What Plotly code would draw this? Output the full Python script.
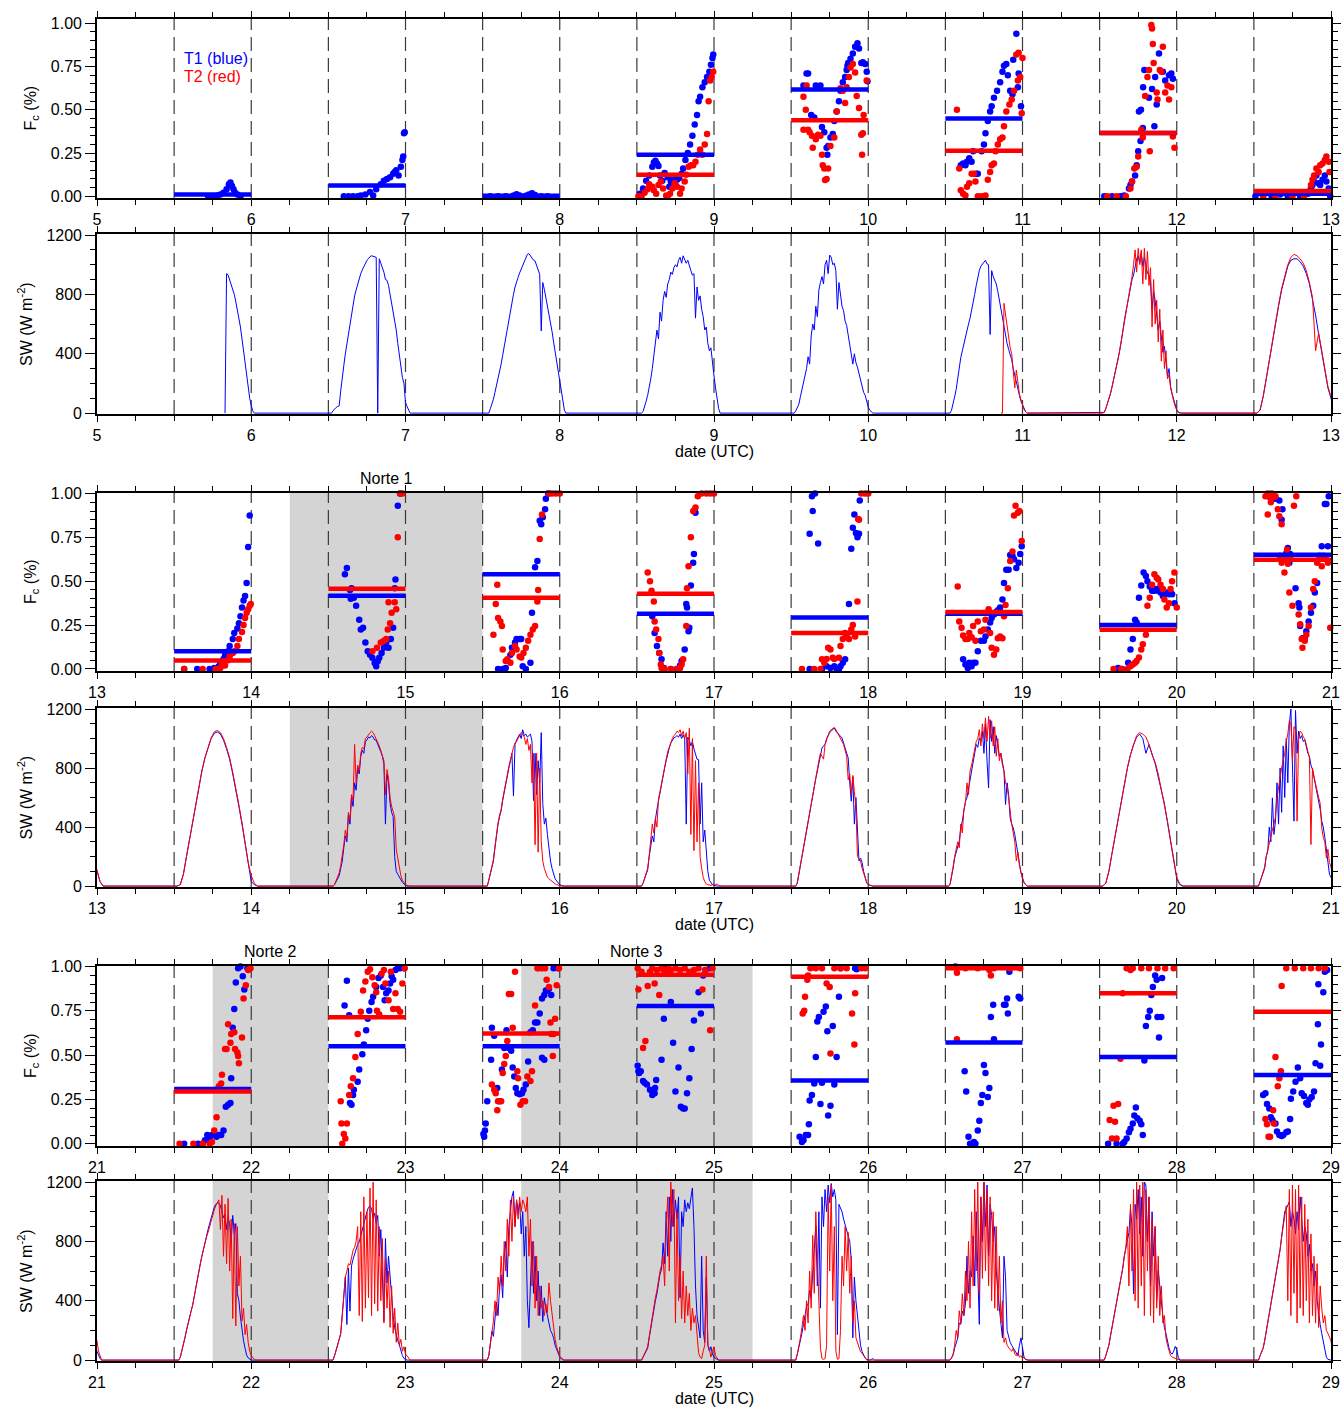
import numpy as np
import plotly.graph_objects as go

# ---------------------------------------------------------------------------
# Cloud fraction F_c (time in days, value) for towers T1 and T2
# ---------------------------------------------------------------------------
fc_t1_d05 = [(5.72,0.0),(5.75,0.0),(5.78,0.005),(5.80,0.01),(5.82,0.02),(5.84,0.04),(5.855,0.07),(5.865,0.08),(5.875,0.06),(5.885,0.04),(5.895,0.02),(5.91,0.01),(5.93,0.0)]
fc_t1_d06 = [(6.60,0.0),(6.63,0.0),(6.66,0.0),(6.69,0.0),(6.71,0.005),(6.74,0.01),(6.77,0.025),(6.79,0.005),(6.81,0.04),(6.84,0.07),(6.86,0.09),(6.88,0.10),(6.90,0.11),(6.92,0.13),(6.93,0.14),(6.94,0.15),(6.955,0.12),(6.97,0.17),(6.98,0.21),(6.985,0.23),(6.99,0.365),(6.995,0.37)]
fc_t1_d07 = [(7.55,0.0),(7.60,0.0),(7.65,0.0),(7.70,0.005),(7.72,0.012),(7.74,0.005),(7.78,0.003),(7.80,0.01),(7.82,0.018),(7.84,0.008),(7.88,0.0),(7.92,0.0)]
fc_t1_d08 = [(8.52,0.015),(8.54,0.045),(8.56,0.09),(8.58,0.12),(8.60,0.17),(8.61,0.195),(8.62,0.205),(8.63,0.19),(8.64,0.175),(8.65,0.12),(8.665,0.09),(8.68,0.135),(8.70,0.11),(8.71,0.055),(8.72,0.085),(8.735,0.10),(8.75,0.065),(8.76,0.095),(8.775,0.105),(8.79,0.13),(8.80,0.16),(8.815,0.21),(8.83,0.25),(8.845,0.30),(8.86,0.35),(8.875,0.415),(8.89,0.47),(8.90,0.55),(8.91,0.575),(8.925,0.63),(8.94,0.66),(8.955,0.69),(8.97,0.72),(8.98,0.76),(8.99,0.80),(8.995,0.82)]
fc_t2_d08 = [(8.51,0.0),(8.53,0.0),(8.55,0.02),(8.57,0.04),(8.58,0.07),(8.60,0.055),(8.61,0.035),(8.625,0.015),(8.64,0.065),(8.655,0.085),(8.67,0.045),(8.69,0.005),(8.70,0.0),(8.715,0.015),(8.73,0.045),(8.745,0.075),(8.76,0.055),(8.78,0.015),(8.79,0.045),(8.81,0.085),(8.82,0.125),(8.835,0.17),(8.85,0.18),(8.865,0.18),(8.88,0.20),(8.895,0.24),(8.91,0.27),(8.925,0.24),(8.94,0.30),(8.955,0.36),(8.965,0.55),(8.975,0.67),(8.985,0.69),(8.995,0.72)]
fc_t1_d09 = [(9.58,0.64),(9.60,0.71),(9.61,0.71),(9.63,0.47),(9.65,0.455),(9.66,0.64),(9.675,0.63),(9.69,0.64),(9.70,0.40),(9.715,0.37),(9.73,0.28),(9.735,0.24),(9.74,0.29),(9.755,0.34),(9.77,0.36),(9.78,0.435),(9.795,0.49),(9.81,0.55),(9.82,0.61),(9.835,0.66),(9.85,0.69),(9.86,0.73),(9.865,0.755),(9.87,0.77),(9.885,0.795),(9.90,0.825),(9.915,0.865),(9.93,0.885),(9.94,0.855),(9.955,0.77),(9.965,0.775),(9.98,0.765),(9.99,0.72),(9.995,0.665)]
fc_t2_d09 = [(9.58,0.575),(9.595,0.50),(9.60,0.64),(9.58,0.385),(9.61,0.385),(9.62,0.37),(9.635,0.35),(9.64,0.28),(9.66,0.33),(9.675,0.355),(9.69,0.35),(9.70,0.24),(9.705,0.18),(9.715,0.16),(9.72,0.094),(9.73,0.10),(9.74,0.16),(9.755,0.29),(9.78,0.34),(9.795,0.49),(9.82,0.625),(9.835,0.61),(9.85,0.54),(9.86,0.63),(9.875,0.69),(9.885,0.745),(9.90,0.765),(9.915,0.715),(9.925,0.58),(9.94,0.51),(9.955,0.355),(9.96,0.24),(9.965,0.365),(9.97,0.47),(9.99,0.67)]
fc_t1_d10 = [(10.60,0.18),(10.615,0.19),(10.63,0.18),(10.64,0.20),(10.655,0.22),(10.67,0.20),(10.68,0.26),(10.70,0.13),(10.71,0.13),(10.735,0.26),(10.75,0.30),(10.76,0.365),(10.775,0.435),(10.79,0.49),(10.80,0.52),(10.815,0.57),(10.835,0.61),(10.855,0.66),(10.87,0.72),(10.88,0.755),(10.895,0.765),(10.905,0.70),(10.92,0.61),(10.935,0.59),(10.94,0.79),(10.96,0.94),(10.97,0.63),(10.975,0.71),(10.99,0.52)]
fc_t2_d10 = [(10.575,0.50),(10.59,0.16),(10.60,0.035),(10.615,0.015),(10.63,0.005),(10.64,0.055),(10.655,0.075),(10.67,0.13),(10.685,0.13),(10.695,0.085),(10.71,0.0),(10.735,0.0),(10.76,0.005),(10.775,0.095),(10.79,0.14),(10.80,0.18),(10.815,0.19),(10.825,0.26),(10.84,0.30),(10.855,0.33),(10.87,0.34),(10.88,0.405),(10.895,0.49),(10.915,0.53),(10.93,0.56),(10.945,0.61),(10.96,0.82),(10.97,0.67),(10.975,0.83),(10.985,0.69),(10.995,0.48),(11.0,0.80)]
fc_t1_d11 = [(11.53,0.0),(11.58,0.0),(11.635,0.0),(11.66,0.005),(11.69,0.045),(11.70,0.065),(11.71,0.085),(11.73,0.12),(11.74,0.18),(11.75,0.26),(11.765,0.32),(11.78,0.395),(11.755,0.49),(11.768,0.50),(11.782,0.63),(11.79,0.73),(11.82,0.57),(11.84,0.62),(11.855,0.405),(11.86,0.69),(11.87,0.53),(11.885,0.825),(11.91,0.72),(11.925,0.67),(11.95,0.70),(11.965,0.71),(11.975,0.68)]
fc_t2_d11 = [(11.55,0.0),(11.61,0.0),(11.67,0.0),(11.70,0.045),(11.71,0.085),(11.725,0.16),(11.74,0.17),(11.75,0.23),(11.77,0.385),(11.78,0.34),(11.795,0.58),(11.81,0.69),(11.82,0.73),(11.825,0.26),(11.835,0.99),(11.84,0.97),(11.845,0.88),(11.85,0.77),(11.87,0.60),(11.875,0.56),(11.89,0.73),(11.90,0.72),(11.91,0.865),(11.925,0.60),(11.94,0.64),(11.95,0.56),(11.965,0.63),(11.975,0.345),(11.985,0.28)]
fc_t1_d12 = [(12.51,0.0),(12.56,0.0),(12.615,0.0),(12.67,0.01),(12.72,0.0),(12.80,0.0),(12.85,0.015),(12.87,0.045),(12.88,0.065),(12.89,0.085),(12.905,0.12),(12.92,0.075),(12.93,0.065),(12.945,0.095),(12.96,0.12),(12.97,0.085),(12.985,0.045),(12.995,0.0)]
fc_t2_d12 = [(12.56,0.0),(12.64,0.0),(12.75,0.0),(12.825,0.0),(12.85,0.025),(12.87,0.065),(12.88,0.095),(12.89,0.12),(12.905,0.16),(12.92,0.14),(12.93,0.18),(12.945,0.19),(12.96,0.21),(12.97,0.23),(12.985,0.20),(12.99,0.14)]

fc_t1_d13 = [(13.565,0.0),(13.65,0.0),(13.73,0.0),(13.76,0.005),(13.79,0.015),(13.80,0.035),(13.82,0.057),(13.83,0.076),(13.85,0.10),(13.86,0.13),(13.88,0.17),(13.89,0.205),(13.91,0.23),(13.92,0.26),(13.93,0.30),(13.94,0.35),(13.95,0.39),(13.96,0.415),(13.97,0.49),(13.98,0.695),(13.99,0.875)]
fc_t2_d13 = [(13.565,0.0),(13.685,0.0),(13.77,0.0),(13.80,0.005),(13.81,0.025),(13.83,0.02),(13.85,0.05),(13.86,0.07),(13.88,0.09),(13.89,0.10),(13.91,0.13),(13.92,0.17),(13.94,0.21),(13.95,0.25),(13.96,0.29),(13.97,0.32),(13.98,0.34),(13.99,0.36),(13.997,0.37)]
fc_t1_d14 = [(14.607,0.54),(14.62,0.575),(14.64,0.45),(14.645,0.40),(14.65,0.46),(14.665,0.405),(14.68,0.36),(14.70,0.28),(14.71,0.225),(14.725,0.235),(14.74,0.15),(14.755,0.10),(14.77,0.08),(14.785,0.063),(14.80,0.034),(14.81,0.015),(14.82,0.044),(14.83,0.063),(14.845,0.09),(14.86,0.12),(14.875,0.15),(14.89,0.12),(14.905,0.17),(14.92,0.235),(14.93,0.46),(14.935,0.51),(14.95,0.93),(14.965,1.0)]
fc_t2_d14 = [(14.785,0.10),(14.815,0.12),(14.84,0.15),(14.86,0.16),(14.875,0.17),(14.885,0.225),(14.89,0.38),(14.90,0.26),(14.91,0.32),(14.93,0.38),(14.94,0.34),(14.95,0.75),(14.965,1.0),(14.98,1.0)]
fc_t1_d15 = [(15.60,0.0),(15.63,0.0),(15.65,0.005),(15.66,0.05),(15.68,0.08),(15.69,0.12),(15.71,0.15),(15.72,0.17),(15.74,0.17),(15.75,0.17),(15.76,0.015),(15.78,0.0),(15.81,0.035),(15.82,0.32),(15.84,0.58),(15.855,0.615),(15.87,0.845),(15.88,0.825),(15.89,0.865),(15.905,0.91),(15.91,0.97),(15.925,1.0)]
fc_t2_d15 = [(15.57,0.195),(15.585,0.37),(15.595,0.48),(15.60,0.29),(15.615,0.27),(15.625,0.245),(15.63,0.11),(15.65,0.045),(15.66,0.055),(15.68,0.035),(15.69,0.09),(15.71,0.13),(15.72,0.11),(15.74,0.07),(15.75,0.065),(15.765,0.09),(15.78,0.12),(15.795,0.16),(15.81,0.195),(15.825,0.225),(15.84,0.245),(15.855,0.385),(15.86,0.45),(15.87,0.74),(15.885,0.88),(15.93,1.0),(15.95,1.0),(15.975,1.0),(16.0,1.0)]
fc_t1_d16 = [(16.60,0.30),(16.615,0.205),(16.63,0.13),(16.645,0.09),(16.66,0.055),(16.675,0.005),(16.72,0.0),(16.76,0.0),(16.78,0.02),(16.79,0.045),(16.81,0.11),(16.82,0.37),(16.825,0.35),(16.835,0.215),(16.84,0.235),(16.85,0.475),(16.865,0.605),(16.87,0.655),(16.88,0.89)]
fc_t2_d16 = [(16.57,0.55),(16.585,0.50),(16.595,0.445),(16.61,0.385),(16.615,0.27),(16.625,0.225),(16.64,0.17),(16.645,0.09),(16.655,0.025),(16.66,0.005),(16.68,0.0),(16.72,0.0),(16.76,0.0),(16.78,0.005),(16.79,0.025),(16.80,0.055),(16.82,0.245),(16.825,0.46),(16.835,0.585),(16.85,0.75),(16.865,0.90),(16.88,0.92),(16.895,0.985),(16.92,1.0),(16.95,1.0),(16.975,1.0),(17.0,1.0)]
fc_t1_d17 = [(17.62,0.77),(17.635,0.985),(17.655,1.0),(17.64,0.90),(17.675,0.715),(17.62,0.0),(17.70,0.0),(17.73,0.015),(17.755,0.005),(17.78,0.015),(17.795,0.0),(17.81,0.0),(17.82,0.015),(17.835,0.035),(17.85,0.055),(17.875,0.37),(17.89,0.685),(17.90,0.805),(17.91,0.88),(17.92,0.775),(17.93,0.75),(17.94,0.77),(17.945,0.96)]
fc_t2_d17 = [(17.57,0.0),(17.65,0.0),(17.69,0.0),(17.70,0.055),(17.715,0.035),(17.73,0.057),(17.74,0.12),(17.755,0.11),(17.77,0.063),(17.78,0.057),(17.81,0.063),(17.82,0.13),(17.835,0.17),(17.85,0.205),(17.86,0.195),(17.875,0.17),(17.89,0.225),(17.90,0.25),(17.915,0.185),(17.93,0.385),(17.935,0.855),(17.94,0.85),(17.955,1.0),(17.98,1.0),(18.0,1.0)]
fc_t1_d18 = [(18.615,0.055),(18.63,0.025),(18.645,0.005),(18.655,0.035),(18.67,0.015),(18.68,0.035),(18.695,0.035),(18.71,0.10),(18.73,0.16),(18.75,0.16),(18.76,0.185),(18.775,0.225),(18.79,0.265),(18.80,0.29),(18.815,0.31),(18.83,0.325),(18.84,0.335),(18.855,0.35),(18.87,0.395),(18.88,0.49),(18.895,0.565),(18.91,0.565),(18.92,0.65),(18.935,0.645),(18.945,0.625),(18.96,0.575),(18.975,0.605),(18.985,0.655),(18.995,0.70)]
fc_t2_d18 = [(18.58,0.47),(18.59,0.27),(18.605,0.235),(18.615,0.19),(18.63,0.17),(18.645,0.17),(18.655,0.205),(18.67,0.18),(18.68,0.245),(18.695,0.16),(18.71,0.27),(18.73,0.215),(18.75,0.225),(18.76,0.28),(18.78,0.34),(18.79,0.205),(18.80,0.12),(18.815,0.08),(18.83,0.11),(18.84,0.175),(18.855,0.185),(18.87,0.175),(18.88,0.30),(18.89,0.365),(18.905,0.46),(18.92,0.615),(18.935,0.67),(18.945,0.875),(18.955,0.93),(18.97,0.89),(18.98,0.90),(18.995,0.73)]
fc_t1_d19 = [(19.61,0.0),(19.62,0.005),(19.645,0.0),(19.685,0.035),(19.70,0.11),(19.715,0.17),(19.73,0.28),(19.74,0.265),(19.755,0.405),(19.77,0.475),(19.785,0.55),(19.80,0.53),(19.81,0.50),(19.825,0.47),(19.84,0.445),(19.855,0.445),(19.87,0.455),(19.88,0.445),(19.895,0.435),(19.91,0.415),(19.92,0.425),(19.935,0.435),(19.95,0.425),(19.96,0.435),(19.97,0.425),(19.985,0.375)]
fc_t2_d19 = [(19.59,0.0),(19.64,0.0),(19.68,0.0),(19.70,0.015),(19.715,0.025),(19.73,0.035),(19.74,0.045),(19.755,0.065),(19.77,0.11),(19.78,0.14),(19.80,0.195),(19.81,0.36),(19.825,0.405),(19.84,0.48),(19.855,0.54),(19.87,0.52),(19.88,0.51),(19.895,0.48),(19.91,0.455),(19.92,0.395),(19.935,0.35),(19.95,0.375),(19.96,0.455),(19.97,0.50),(19.985,0.55),(20.0,0.35)]
fc_t1_d20 = [(20.615,0.97),(20.64,0.97),(20.665,0.96),(20.68,0.85),(20.685,0.91),(20.72,0.69),(20.71,0.66),(20.73,0.605),(20.735,0.655),(20.77,0.46),(20.79,0.375),(20.795,0.35),(20.80,0.245),(20.815,0.175),(20.83,0.17),(20.84,0.215),(20.855,0.27),(20.87,0.32),(20.885,0.36),(20.895,0.435),(20.91,0.49),(20.925,0.645),(20.94,0.70),(20.96,0.94),(20.97,0.94),(20.985,0.985),(20.98,0.70)]
fc_t2_d20 = [(20.575,0.985),(20.59,1.0),(20.60,0.98),(20.61,0.95),(20.59,0.88),(20.615,1.0),(20.625,0.98),(20.64,0.985),(20.655,0.91),(20.665,0.87),(20.68,0.825),(20.668,0.645),(20.68,0.605),(20.695,0.635),(20.71,0.645),(20.72,0.60),(20.735,0.635),(20.698,0.55),(20.715,0.68),(20.73,0.435),(20.75,0.36),(20.76,0.93),(20.775,0.985),(20.79,0.31),(20.80,0.255),(20.81,0.17),(20.815,0.12),(20.83,0.16),(20.84,0.195),(20.855,0.245),(20.87,0.35),(20.885,0.455),(20.895,0.50),(20.91,0.605),(20.925,0.625),(20.94,0.585),(20.95,0.645),(20.965,0.635),(20.98,0.605),(20.995,0.235)]

fc_t1_d21 = [(21.565,0.0),(21.655,0.0),(21.685,0.0),(21.70,0.02),(21.715,0.05),(21.73,0.03),(21.745,0.05),(21.76,0.05),(21.775,0.04),(21.79,0.05),(21.805,0.05),(21.82,0.075),(21.835,0.21),(21.85,0.22),(21.865,0.23),(21.87,0.37),(21.88,0.655),(21.89,0.76),(21.90,0.91),(21.915,0.99),(21.93,1.0),(21.945,0.945),(21.955,0.87),(21.975,0.99)]
fc_t2_d21 = [(21.535,0.0),(21.625,0.0),(21.685,0.0),(21.73,0.0),(21.745,0.01),(21.76,0.075),(21.775,0.15),(21.79,0.325),(21.805,0.34),(21.81,0.39),(21.83,0.535),(21.84,0.535),(21.85,0.675),(21.865,0.57),(21.87,0.62),(21.89,0.63),(21.895,0.535),(21.91,0.515),(21.915,0.495),(21.92,0.455),(21.94,0.60),(21.95,0.82),(21.965,0.895),(21.98,0.98),(21.995,0.99)]
fc_t1_d22 = [(22.605,0.78),(22.62,0.92),(22.635,0.725),(22.64,0.23),(22.65,0.22),(22.66,0.275),(22.665,0.305),(22.69,0.35),(22.70,0.42),(22.72,0.505),(22.73,0.56),(22.745,0.64),(22.755,0.705),(22.765,0.75),(22.78,0.80),(22.79,0.83),(22.81,0.885),(22.825,0.935),(22.84,0.95),(22.855,0.885),(22.865,0.81),(22.875,0.85),(22.89,0.865),(22.90,0.905),(22.91,0.945),(22.92,0.925),(22.935,0.98),(22.95,0.99),(22.965,0.99),(22.99,0.99)]
fc_t2_d22 = [(22.58,0.24),(22.585,0.115),(22.60,0.055),(22.61,0.03),(22.62,0.115),(22.59,0.0),(22.635,0.275),(22.645,0.325),(22.66,0.37),(22.675,0.49),(22.69,0.62),(22.71,0.745),(22.725,0.865),(22.74,0.915),(22.755,0.97),(22.77,0.985),(22.785,0.94),(22.80,0.895),(22.81,0.855),(22.815,0.75),(22.83,0.73),(22.845,0.96),(22.86,0.98),(22.87,0.905),(22.89,0.81),(22.905,0.97),(22.92,0.76),(22.935,0.85),(22.95,0.76),(22.965,0.745),(22.98,0.905),(22.995,0.99)]
fc_t1_d23 = [(23.505,0.055),(23.51,0.04),(23.515,0.075),(23.52,0.115),(23.53,0.24),(23.555,0.475),(23.56,0.655),(23.575,0.61),(23.595,0.315),(23.61,0.24),(23.625,0.42),(23.64,0.54),(23.655,0.64),(23.67,0.54),(23.685,0.525),(23.695,0.43),(23.705,0.38),(23.715,0.315),(23.725,0.285),(23.74,0.28),(23.755,0.285),(23.765,0.305),(23.78,0.335),(23.795,0.465),(23.81,0.63),(23.825,0.64),(23.84,0.685),(23.855,0.685),(23.87,0.735),(23.885,0.82),(23.90,0.84),(23.91,0.865),(23.92,0.865),(23.93,0.875),(23.945,0.84),(23.96,0.99),(23.99,0.99),(23.90,0.475),(23.885,0.485)]
fc_t2_d23 = [(23.56,0.335),(23.575,0.305),(23.585,0.285),(23.595,0.19),(23.60,0.24),(23.62,0.24),(23.63,0.40),(23.64,0.45),(23.65,0.495),(23.66,0.58),(23.67,0.845),(23.685,0.845),(23.695,0.655),(23.71,0.97),(23.725,0.41),(23.73,0.37),(23.745,0.22),(23.76,0.24),(23.775,0.24),(23.79,0.38),(23.81,0.355),(23.82,0.41),(23.84,0.78),(23.855,0.99),(23.865,0.99),(23.885,0.99),(23.905,0.99),(23.915,0.925),(23.93,0.885),(23.94,0.685),(23.945,0.62),(23.955,0.495),(23.96,0.62),(23.97,0.705),(23.98,0.895),(23.995,0.99)]
fc_t1_d24 = [(24.505,0.44),(24.51,0.41),(24.515,0.40),(24.525,0.41),(24.54,0.355),(24.55,0.345),(24.565,0.335),(24.585,0.305),(24.60,0.275),(24.615,0.285),(24.618,0.315),(24.625,0.36),(24.66,0.475),(24.675,0.705),(24.69,0.99),(24.72,0.80),(24.735,0.57),(24.75,0.295),(24.77,0.43),(24.785,0.21),(24.80,0.20),(24.81,0.20),(24.825,0.285),(24.84,0.37),(24.855,0.535),(24.87,0.695),(24.90,0.855),(24.915,0.735),(24.93,0.95),(24.945,0.98),(24.975,0.99)]
fc_t2_d24 = [(24.505,0.99),(24.51,0.87),(24.53,0.97),(24.54,0.54),(24.555,0.58),(24.57,0.89),(24.585,0.97),(24.60,0.99),(24.615,0.905),(24.63,0.98),(24.645,0.84),(24.66,0.99),(24.675,0.98),(24.69,0.96),(24.705,0.99),(24.72,0.98),(24.75,0.99),(24.78,0.98),(24.81,0.99),(24.84,0.97),(24.87,0.98),(24.90,0.99),(24.925,0.87),(24.945,0.98),(24.975,0.64),(24.99,0.99)]
fc_t1_d25 = [(25.555,0.04),(25.57,0.01),(25.58,0.02),(25.595,0.05),(25.61,0.05),(25.615,0.11),(25.62,0.245),(25.635,0.275),(25.65,0.34),(25.66,0.49),(25.67,0.69),(25.68,0.715),(25.69,0.225),(25.70,0.345),(25.71,0.745),(25.725,0.775),(25.735,0.635),(25.74,0.16),(25.755,0.215),(25.77,0.665),(25.78,0.335),(25.795,0.49),(25.81,0.83),(25.82,0.99),(25.915,0.99),(25.925,0.985)]
fc_t2_d25 = [(25.575,0.735),(25.585,0.75),(25.59,0.83),(25.61,0.95),(25.605,0.925),(25.625,0.99),(25.66,0.99),(25.70,0.99),(25.73,0.905),(25.75,0.885),(25.755,0.51),(25.78,0.99),(25.82,0.99),(25.86,0.99),(25.895,0.735),(25.91,0.56),(25.915,0.85),(25.955,0.99),(25.98,0.99)]
fc_t1_d26 = [(26.565,1.0),(26.625,0.41),(26.635,0.295),(26.65,0.04),(26.66,0.0),(26.675,0.0),(26.685,0.01),(26.695,0.0),(26.71,0.075),(26.72,0.13),(26.73,0.23),(26.74,0.275),(26.75,0.445),(26.76,0.40),(26.775,0.265),(26.785,0.315),(26.795,0.715),(26.81,0.785),(26.815,0.59),(26.88,0.785),(26.89,0.785),(26.90,0.82),(26.905,0.735),(26.915,0.97),(26.975,0.83),(26.985,0.82)]
fc_t2_d26 = [(26.575,0.965),(26.785,0.98),(26.795,0.95),(26.575,0.59),(26.63,0.99),(26.71,0.99),(26.815,0.99),(26.92,0.99),(26.985,0.99)]
fc_t1_d27 = [(27.555,0.0),(27.61,0.0),(27.65,0.0),(27.66,0.01),(27.675,0.03),(27.69,0.065),(27.70,0.085),(27.715,0.115),(27.725,0.16),(27.735,0.205),(27.745,0.145),(27.76,0.13),(27.77,0.11),(27.78,0.05),(27.79,0.47),(27.80,0.665),(27.815,0.715),(27.825,0.75),(27.835,0.84),(27.845,0.885),(27.86,0.95),(27.87,0.925),(27.885,0.60),(27.875,0.715),(27.905,0.935),(27.90,0.715)]
fc_t2_d27 = [(27.565,0.135),(27.58,0.03),(27.59,0.215),(27.60,0.125),(27.61,0.03),(27.62,0.225),(27.635,0.48),(27.65,0.85),(27.675,0.99),(27.70,0.98),(27.715,0.99),(27.77,0.99),(27.82,0.99),(27.875,0.99),(27.925,0.99),(27.98,0.99)]
fc_t1_d28 = [(28.56,0.275),(28.575,0.285),(28.585,0.225),(28.60,0.20),(28.61,0.15),(28.62,0.135),(28.64,0.115),(28.65,0.07),(28.665,0.05),(28.68,0.045),(28.69,0.05),(28.71,0.065),(28.72,0.07),(28.735,0.14),(28.74,0.255),(28.755,0.295),(28.77,0.35),(28.785,0.43),(28.80,0.37),(28.81,0.285),(28.825,0.27),(28.84,0.23),(28.85,0.22),(28.86,0.25),(28.875,0.265),(28.89,0.295),(28.90,0.455),(28.915,0.675),(28.93,0.44),(28.935,0.56),(28.918,0.90),(28.95,0.855),(28.96,0.97),(28.975,0.98)]
fc_t2_d28 = [(28.575,0.14),(28.585,0.11),(28.595,0.04),(28.605,0.04),(28.625,0.19),(28.63,0.115),(28.64,0.49),(28.655,0.325),(28.665,0.37),(28.675,0.41),(28.68,0.89),(28.71,0.99),(28.765,0.99),(28.82,0.99),(28.87,0.99),(28.92,0.99),(28.96,0.99)]

FC_T1 = [fc_t1_d05, fc_t1_d06, fc_t1_d07, fc_t1_d08, fc_t1_d09, fc_t1_d10, fc_t1_d11, fc_t1_d12,
         fc_t1_d13, fc_t1_d14, fc_t1_d15, fc_t1_d16, fc_t1_d17, fc_t1_d18, fc_t1_d19, fc_t1_d20,
         fc_t1_d21, fc_t1_d22, fc_t1_d23, fc_t1_d24, fc_t1_d25, fc_t1_d26, fc_t1_d27, fc_t1_d28]
FC_T2 = [fc_t2_d08, fc_t2_d09, fc_t2_d10, fc_t2_d11, fc_t2_d12,
         fc_t2_d13, fc_t2_d14, fc_t2_d15, fc_t2_d16, fc_t2_d17, fc_t2_d18, fc_t2_d19, fc_t2_d20,
         fc_t2_d21, fc_t2_d22, fc_t2_d23, fc_t2_d24, fc_t2_d25, fc_t2_d26, fc_t2_d27, fc_t2_d28]

# Daily (12-24 UTC) mean cloud fraction
MEAN_DAYS = list(range(5, 29))
MEAN_T1 = [0.01, 0.062, 0.003, 0.24, 0.618, 0.45, 0.366, 0.014,
           0.10, 0.417, 0.539, 0.314, 0.293, 0.314, 0.251, 0.651,
           0.309, 0.55, 0.55, 0.777, 0.358, 0.571, 0.49, 0.389]
MEAN_T2 = [None, None, None, 0.125, 0.439, 0.263, 0.366, 0.03,
           0.048, 0.457, 0.406, 0.429, 0.204, 0.324, 0.223, 0.623,
           0.295, 0.714, 0.623, 0.954, 0.943, 0.99, 0.85, 0.745]

# ---------------------------------------------------------------------------
# Downwelling shortwave SW (W m-2): (first sample time, sampling step, values)
# ---------------------------------------------------------------------------
sw_t1_d05 = [0,940,930,900,870,840,800,750,700,650,580,500,420,330,250,170,100,50,15,0,0]
sw_t1_d06 = [0,15,30,38,45,49,150,250,320,400,470,530,590,680,740,790,830,870,910,940,965,990,1010,1030,1040,1055,1060,1055,1050,1050,0,1040,1010,980,950,900,895,860,800,750,700,620,560,470,400,300,240,200,70,45,20,0,0,0]
sw_t1_d07 = [0,0,0,30,60,94,140,185,235,280,330,390,450,515,576,640,700,756,800,850,890,915,945,969,995,1020,1047,1070,1075,1060,1045,1030,1025,990,960,935,554,880,834,780,720,680,610,550,480,410,340,270,200,130,60,20,0,0]
sw_t1_d08 = [0,0,10,40,80,120,170,230,300,380,470,560,500,680,620,760,820,780,870,900,950,935,980,1000,985,1030,1050,1010,1060,1040,1010,1030,990,960,930,940,640,850,760,790,700,650,560,580,470,420,440,330,250,170,90,30,0,0]
sw_t1_d09 = [0,15,40,60,110,160,195,250,300,380,330,520,600,560,720,650,830,880,920,870,1000,1030,940,1065,1050,1000,1010,960,700,880,800,720,690,620,590,530,450,400,330,400,340,310,270,230,180,140,120,70,40,20,10,0,0,0]
sw_t1_d10 = [0,0,20,60,110,160,240,310,375,420,470,509,550,600,640,690,730,800,860,920,960,990,1005,1014,1030,1005,1000,530,960,920,900,870,820,760,700,660,580,520,470,430,400,360,300,250,195,150,120,80,55,30,10,0,0,0]
sw_t2_d10 = [0,0,740,660,590,500,440,400,300,170,290,190,130,90,55,25,10,0]
sw_t1_d11 = [0,5,30,60,90,130,173,220,260,307,360,420,480,560,621,680,740,800,850,900,930,980,1040,1060,1010,1080,990,1050,1000,940,930,880,700,820,760,650,560,620,500,410,450,330,250,300,180,130,90,50,20,5,0,0,0,0]
sw_t2_d11 = [0,5,30,60,90,130,175,220,265,310,365,425,485,560,625,690,745,800,870,920,1000,1100,950,1110,1000,1100,870,1110,900,1090,860,980,580,900,600,760,480,700,350,560,300,420,230,260,170,120,80,45,20,10,0,0,0,0]
sw_t1_d12 = [0,20,110,230,360,480,600,720,830,920,990,1030,1040,1040,1020,990,940,870,770,660,530,410,290,170,100,30,0]
sw_t2_d12 = [0,20,110,230,360,490,610,730,840,930,1000,1050,1070,1060,1040,1010,960,880,780,420,540,420,300,180,110,30,0]
sw_t1_d13 = [0,10,80,200,320,420,560,680,780,870,940,1000,1035,1045,1030,990,930,860,760,660,540,420,280,150,30,10,0]
sw_t2_d13 = [0,10,80,200,320,420,560,680,780,870,940,1005,1045,1055,1040,1000,940,870,770,670,550,430,290,160,70,20,0]
sw_t1_d14 = [0,0,10,30,50,70,120,170,260,340,300,480,420,600,540,700,650,800,760,880,920,900,980,990,1010,1005,1020,1010,990,990,960,940,910,880,830,420,760,700,560,500,470,200,100,80,60,40,25,15,5,0,0,0,0,0]
sw_t2_d14 = [0,0,10,35,60,90,140,200,280,380,330,500,450,620,580,960,700,820,780,900,940,930,1000,1010,1030,1040,1050,1040,1020,1000,980,950,920,880,850,620,790,730,600,540,500,470,250,190,110,70,40,20,10,5,0,0,0,0]
sw_t1_d15 = [0,0,40,90,130,170,260,350,420,470,510,580,640,690,740,800,845,900,610,960,990,1010,1030,1000,1060,1020,1030,1010,1020,1030,980,580,900,620,850,700,1040,560,420,460,350,240,170,120,80,50,35,20,10,5,0,0,0,0]
sw_t2_d15 = [0,0,40,90,140,180,270,360,430,480,520,590,650,700,750,810,855,910,940,970,980,1000,1020,1040,1030,1010,960,1000,920,960,700,900,280,900,230,800,300,170,120,80,60,50,40,30,20,15,10,5,5,0,0,0,0,0]
sw_t1_d16 = [0,0,20,50,70,110,200,270,340,300,450,520,580,620,680,740,800,850,900,936,970,990,1004,1010,1020,1010,1030,1000,1025,1000,420,1010,990,950,980,930,900,860,857,420,700,300,380,200,100,40,20,10,5,0,0,0,0,0]
sw_t2_d16 = [0,0,20,50,80,120,210,300,420,360,460,400,590,640,700,750,810,860,910,945,980,1000,1020,1030,1050,1040,1060,1020,1050,1000,1040,760,1070,350,1000,240,850,300,700,200,120,60,30,15,10,5,5,10,15,10,15,5,0,0]
sw_t1_d17 = [0,0,20,80,140,200,260,320,380,440,500,570,630,688,730,780,840,880,936,950,960,1000,1026,1040,1050,1060,1072,1050,1040,1026,1020,1004,970,930,900,868,700,575,740,420,600,395,170,190,160,100,60,22,10,5,0,0,0,0]
sw_t2_d17 = [0,0,25,85,145,205,265,325,385,445,505,575,635,690,735,790,850,900,880,860,960,990,1030,1050,1060,1070,1075,1060,1040,1030,1000,990,960,920,880,720,760,620,750,640,540,200,180,170,120,90,50,25,10,5,0,0,0,0]
sw_t1_d18 = [0,10,60,120,190,230,280,305,395,440,510,575,600,660,740,800,845,900,960,940,1004,980,1050,900,1100,850,665,1128,980,1080,900,1020,940,880,900,845,778,553,700,620,462,420,395,350,280,214,150,90,56,25,10,0,0,0]
sw_t2_d18 = [0,10,60,130,200,250,300,260,420,360,520,560,700,620,780,820,880,920,980,1000,1060,950,1100,1000,1140,980,1150,1000,1120,950,1080,880,1000,850,900,820,780,700,680,600,500,420,360,300,170,230,140,90,50,25,10,0,0,0]
sw_t1_d19 = [0,20,100,220,340,460,580,700,800,890,960,1010,1030,1000,900,960,900,830,740,650,560,430,300,170,50,10,0]
sw_t2_d19 = [0,20,100,220,340,460,580,700,800,890,960,1020,1040,1030,1010,960,890,840,760,660,560,440,310,180,60,15,0]
sw_t1_d20 = [0,0,30,60,90,120,200,237,400,300,598,350,440,700,420,800,500,950,600,1000,700,1100,1200,800,440,1190,900,1050,1000,1020,980,990,940,900,880,820,790,740,690,620,580,520,440,400,330,250,150,80,60,30,10,0,0,0]
sw_t2_d20 = [0,0,30,60,100,130,200,250,300,330,380,420,470,600,665,760,800,850,900,980,1030,1120,1100,850,1080,1060,440,1000,1050,1040,1010,1000,960,914,870,282,800,740,688,640,600,560,395,330,300,190,250,160,130,60,20,0,0,0]
sw_t1_d21 = [0,0,20,60,100,150,200,250,290,330,370,430,490,550,600,650,700,750,800,840,880,920,960,1000,1030,1050,1060,1060,1040,1000,960,980,880,960,920,800,975,850,920,450,400,290,195,130,80,34,15,5,0,0,0,0,0,0]
sw_t2_d21 = [0,0,20,60,100,150,200,250,290,330,370,430,490,550,600,650,700,750,800,830,860,900,940,980,1010,1040,1060,1080,880,1110,700,1050,650,1090,600,950,280,920,230,900,500,700,264,350,172,240,120,60,30,15,5,0,0,0]
sw_t1_d22 = [0,0,30,62,100,140,177,300,410,560,240,620,330,635,680,720,750,780,796,840,870,906,950,1000,1030,1040,1020,950,990,920,975,700,880,600,264,820,520,700,560,400,300,218,160,130,103,60,30,11,5,0,0,0,0,0]
sw_t2_d22 = [0,0,30,60,100,140,180,300,420,560,600,650,640,700,740,760,800,900,300,1000,260,1100,350,1000,420,1160,300,1200,380,1080,330,900,400,820,250,680,350,600,220,500,180,350,120,250,100,140,60,90,40,30,10,0,0,0]
sw_t1_d23 = [0,0,30,100,195,160,300,390,300,500,575,420,700,800,560,900,1000,1100,1140,900,1080,1000,1060,850,1000,700,900,400,218,600,800,450,700,400,600,300,500,260,420,350,300,250,200,180,150,100,70,40,20,10,0,0,0,0]
sw_t2_d23 = [0,0,30,100,180,260,400,300,560,450,700,500,800,600,950,700,1080,800,1100,900,1080,950,1100,1000,1080,1050,1000,1100,700,950,500,800,350,700,300,500,350,400,300,380,320,520,400,300,200,140,90,50,25,15,5,0,0,0]
sw_t1_d24 = [0,0,20,40,60,80,150,220,287,330,400,447,520,580,610,790,650,1000,700,1100,800,1150,900,1080,950,1100,420,1000,900,1080,1000,1060,1020,1100,1160,900,500,300,240,150,700,200,120,560,100,60,90,40,20,10,5,0,0,0]
sw_t2_d24 = [0,0,20,40,60,90,160,230,300,350,420,470,540,600,640,700,500,900,1100,600,1200,900,1150,250,1000,400,700,280,600,250,500,300,450,200,350,250,300,150,50,20,10,60,100,700,100,80,20,60,90,30,10,0,0,0]
sw_t1_d25 = [0,0,40,80,120,180,240,300,360,378,470,420,600,700,906,500,1000,350,1100,900,1150,1000,1180,1060,1190,1100,1150,1080,172,1050,1020,1000,950,906,880,837,800,676,150,560,400,287,200,100,57,30,15,5,0,0,5,10,0,0]
sw_t2_d25 = [0,0,40,90,150,220,300,200,400,250,600,350,840,450,1000,700,300,80,10,5,10,100,1100,600,1180,400,900,60,5,10,200,700,500,900,600,860,450,700,250,400,150,120,80,57,46,30,10,0,0,0,0,0,0,0]
sw_t1_d26 = [0,0,15,34,80,120,149,250,241,330,300,379,700,450,600,560,837,500,1000,600,241,1100,800,1200,900,1180,700,1050,975,800,900,600,447,350,250,150,700,562,200,150,120,100,80,60,40,30,100,150,80,20,5,0,0,0]
sw_t2_d26 = [0,0,15,40,100,200,150,333,250,447,300,600,400,800,350,1000,500,1150,600,1200,450,1100,550,1200,600,1150,500,1100,400,1000,350,900,333,700,250,400,120,150,100,80,70,60,80,40,30,50,20,30,10,20,5,0,0,0]
sw_t1_d27 = [0,0,30,60,100,160,218,270,320,378,440,500,562,620,700,760,820,860,1020,900,447,1050,950,1150,850,1100,700,1200,1180,800,1100,500,1000,700,900,400,600,470,400,300,218,180,120,80,50,40,60,92,70,20,0,0,0,0]
sw_t2_d27 = [0,0,30,60,100,160,218,270,320,378,440,500,562,620,700,760,900,500,1050,600,1150,400,1200,350,1180,500,1200,300,1150,600,1100,300,950,250,900,350,700,300,500,250,300,150,100,60,30,20,15,10,5,0,0,0,0,0]
sw_t1_d28 = [0,0,30,60,80,130,190,250,310,378,440,500,560,620,680,745,830,906,1000,1020,1050,1067,900,1000,950,850,1000,880,1100,950,800,900,850,700,780,600,650,500,600,400,300,240,180,120,57,20,5,0,0,0,0,0,0,0]
sw_t2_d28 = [0,0,30,60,80,130,190,250,310,378,440,500,560,620,680,745,830,906,1000,1040,400,1150,300,1180,450,1150,250,1180,350,1100,300,1050,400,950,250,850,300,700,250,650,220,500,350,250,300,200,180,150,130,60,20,0,0,0]

SW_T1_SEGMENTS = [
    (5.83, 0.01, sw_t1_d05), (6.52, 0.01, sw_t1_d06), (7.52, 0.01, sw_t1_d07),
    (8.52, 0.01, sw_t1_d08), (9.52, 0.01, sw_t1_d09), (10.52, 0.01, sw_t1_d10),
    (11.52, 0.01, sw_t1_d11), (12.52, 0.02, sw_t1_d12), (13.52, 0.02, sw_t1_d13),
    (14.52, 0.01, sw_t1_d14), (15.52, 0.01, sw_t1_d15), (16.52, 0.01, sw_t1_d16),
    (17.52, 0.01, sw_t1_d17), (18.52, 0.01, sw_t1_d18), (19.52, 0.02, sw_t1_d19),
    (20.52, 0.01, sw_t1_d20), (21.52, 0.01, sw_t1_d21), (22.52, 0.01, sw_t1_d22),
    (23.52, 0.01, sw_t1_d23), (24.52, 0.01, sw_t1_d24), (25.52, 0.01, sw_t1_d25),
    (26.52, 0.01, sw_t1_d26), (27.52, 0.01, sw_t1_d27), (28.52, 0.01, sw_t1_d28),
]
SW_T2_SEGMENTS = [
    (10.86, 0.01, sw_t2_d10), (11.52, 0.01, sw_t2_d11), (12.52, 0.02, sw_t2_d12),
    (13.52, 0.02, sw_t2_d13), (14.52, 0.01, sw_t2_d14), (15.52, 0.01, sw_t2_d15),
    (16.52, 0.01, sw_t2_d16), (17.52, 0.01, sw_t2_d17), (18.52, 0.01, sw_t2_d18),
    (19.52, 0.02, sw_t2_d19), (20.52, 0.01, sw_t2_d20), (21.52, 0.01, sw_t2_d21),
    (22.52, 0.01, sw_t2_d22), (23.52, 0.01, sw_t2_d23), (24.52, 0.01, sw_t2_d24),
    (25.52, 0.01, sw_t2_d25), (26.52, 0.01, sw_t2_d26), (27.52, 0.01, sw_t2_d27),
    (28.52, 0.01, sw_t2_d28),
]

# Norte (northerly wind) events: label, start, end
NORTE_EVENTS = [("Norte 1", 14.25, 15.5), ("Norte 2", 21.75, 22.5), ("Norte 3", 23.75, 25.25)]

# Each row of panels covers eight days
ROW_STARTS = [5, 13, 21]

# ---------------------------------------------------------------------------
BLUE, RED = "#0000ff", "#ff0000"
FONT = "Liberation Sans, Arial, Helvetica, sans-serif"
W, H = 1341, 1408
X_LEFT, X_RIGHT = 97, 1331
# (top, bottom) pixel extents of the six panels
PANEL_PX = [(19, 198), (234, 414), (493, 671), (708, 887), (966, 1146), (1181, 1361)]


def build_sw(segments):
    ts, vs = [], []
    for start, step, vals in segments:
        ts.extend(np.round(start + step * np.arange(len(vals)), 4).tolist())
        vs.extend(vals)
    return ts, vs


def scatter_points(day_lists, lo, hi):
    xs, ys = [], []
    for pts in day_lists:
        for t, v in pts:
            if lo <= t <= hi:
                xs.append(t)
                ys.append(v)
    return xs, ys


def mean_segments(means, lo, hi):
    xs, ys = [], []
    for d, m in zip(MEAN_DAYS, means):
        if m is None or not (lo <= d < hi):
            continue
        xs += [d + 0.5, d + 1.0, None]
        ys += [m, m, None]
    return xs, ys


fig = go.Figure()
sw1_t, sw1_v = build_sw(SW_T1_SEGMENTS)
sw2_t, sw2_v = build_sw(SW_T2_SEGMENTS)

for r, start in enumerate(ROW_STARTS):
    fc_ax = 2 * r + 1
    sw_ax = 2 * r + 2
    end = start + 8
    xa_fc, ya_fc = ("x" if fc_ax == 1 else f"x{fc_ax}"), ("y" if fc_ax == 1 else f"y{fc_ax}")
    xa_sw, ya_sw = f"x{sw_ax}", f"y{sw_ax}"

    for day_lists, col in ((FC_T1, BLUE), (FC_T2, RED)):
        xs, ys = scatter_points(day_lists, start, end)
        fig.add_trace(go.Scatter(x=xs, y=ys, mode="markers", xaxis=xa_fc, yaxis=ya_fc,
                                 marker=dict(color=col, size=6.5, line=dict(width=0)),
                                 cliponaxis=False, showlegend=False, hoverinfo="skip"))
    for means, col in ((MEAN_T1, BLUE), (MEAN_T2, RED)):
        xs, ys = mean_segments(means, start, end)
        fig.add_trace(go.Scatter(x=xs, y=ys, mode="lines", xaxis=xa_fc, yaxis=ya_fc,
                                 line=dict(color=col, width=4.5), showlegend=False,
                                 hoverinfo="skip", cliponaxis=False))

    for ts, vs, col in ((sw1_t, sw1_v, BLUE), (sw2_t, sw2_v, RED)):
        fig.add_trace(go.Scatter(x=ts, y=vs, mode="lines", xaxis=xa_sw, yaxis=ya_sw,
                                 line=dict(color=col, width=1), showlegend=False,
                                 hoverinfo="skip"))

# ---------------------------------------------------------------------------
layout = dict(width=W, height=H, margin=dict(l=0, r=0, t=0, b=0, autoexpand=False),
              paper_bgcolor="white", plot_bgcolor="white",
              font=dict(family=FONT, size=16, color="black"), showlegend=False)

shapes, annotations = [], []
for i, (top, bot) in enumerate(PANEL_PX):
    n = i + 1
    start = ROW_STARTS[i // 2]
    is_fc = (i % 2 == 0)
    xk = "xaxis" if n == 1 else f"xaxis{n}"
    yk = "yaxis" if n == 1 else f"yaxis{n}"
    yref = "y" if n == 1 else f"y{n}"
    xref = "x" if n == 1 else f"x{n}"
    layout[xk] = dict(
        domain=[X_LEFT / W, X_RIGHT / W], range=[start, start + 8], anchor=yref,
        tickmode="linear", tick0=0, dtick=1, ticks="outside", ticklen=6, tickwidth=1.3,
        tickcolor="black", automargin=False,
        minor=dict(dtick=0.25, tick0=0, ticks="outside", ticklen=5, tickwidth=1.1, tickcolor="black", showgrid=False),
        showline=True, linecolor="black", linewidth=1.6, mirror="allticks",
        showgrid=False, zeroline=False, tickfont=dict(size=16, family=FONT, color="black"),
    )
    if is_fc:
        yr = [-0.01, 1.025] if n == 1 else [-0.012, 1.003]
        layout[yk] = dict(range=yr, tickmode="linear", tick0=0, dtick=0.25, tickformat=".2f",
                          minor=dict(dtick=0.05, tick0=0, ticks="outside", ticklen=5, tickwidth=1.1, tickcolor="black"))
    else:
        layout[yk] = dict(range=[-6, 1207], tickmode="linear", tick0=0, dtick=400,
                          minor=dict(dtick=100, tick0=0, ticks="outside", ticklen=5, tickwidth=1.1, tickcolor="black"))
    layout[yk].update(domain=[1 - bot / H, 1 - top / H], anchor=xref, ticks="outside", ticklen=10,
                      tickwidth=1.3, tickcolor="black", showline=True, linecolor="black", linewidth=1.6,
                      mirror="allticks", showgrid=False, zeroline=False, automargin=False,
                      tickfont=dict(size=16, family=FONT, color="black"))

    # shaded Norte periods
    for name, a, b in NORTE_EVENTS:
        if a < start + 8 and b > start:
            shapes.append(dict(type="rect", xref=xref, yref=f"{yref} domain", x0=max(a, start), x1=min(b, start + 8),
                               y0=0, y1=1, fillcolor="#d4d4d4", line=dict(width=0), layer="below"))
            if is_fc:
                annotations.append(dict(x=(a + b) / 2, y=1, xref=xref, yref=f"{yref} domain",
                                        yanchor="bottom", yshift=4, text=name, showarrow=False,
                                        font=dict(size=16, family=FONT, color="black")))
    # dashed lines bounding each 12-24 UTC window
    for k in range(1, 16):
        xv = start + 0.5 * k
        shapes.append(dict(type="line", xref=xref, yref=f"{yref} domain", x0=xv, x1=xv, y0=0, y1=1,
                           line=dict(color="#3a3a3a", width=1.2, dash="14px,7px"), layer="below"))

    # axis titles
    ymid = 1 - (top + bot) / 2 / H
    if is_fc:
        annotations.append(dict(x=31 / W, y=ymid, xref="paper", yref="paper", text="F<sub>c</sub> (%)",
                                textangle=-90, showarrow=False, xanchor="center", yanchor="middle",
                                font=dict(size=16, family=FONT, color="black")))
    else:
        annotations.append(dict(x=25 / W, y=ymid, xref="paper", yref="paper", text="SW (W m<sup>-2</sup>)",
                                textangle=-90, showarrow=False, xanchor="center", yanchor="middle",
                                font=dict(size=16, family=FONT, color="black")))
        annotations.append(dict(x=(X_LEFT + X_RIGHT) / 2 / W, y=1 - (bot + 37) / H, xref="paper", yref="paper",
                                text="date (UTC)", showarrow=False, xanchor="center", yanchor="middle",
                                font=dict(size=16, family=FONT, color="black")))

annotations.append(dict(x=5.55, y=0.795, xref="x", yref="y", text="T1 (blue)", showarrow=False,
                        xanchor="left", yanchor="middle", font=dict(size=16, family=FONT, color=BLUE)))
annotations.append(dict(x=5.55, y=0.69, xref="x", yref="y", text="T2 (red)", showarrow=False,
                        xanchor="left", yanchor="middle", font=dict(size=16, family=FONT, color=RED)))

layout["shapes"] = shapes
layout["annotations"] = annotations
fig.update_layout(**layout)
fig.write_html("out.html")
